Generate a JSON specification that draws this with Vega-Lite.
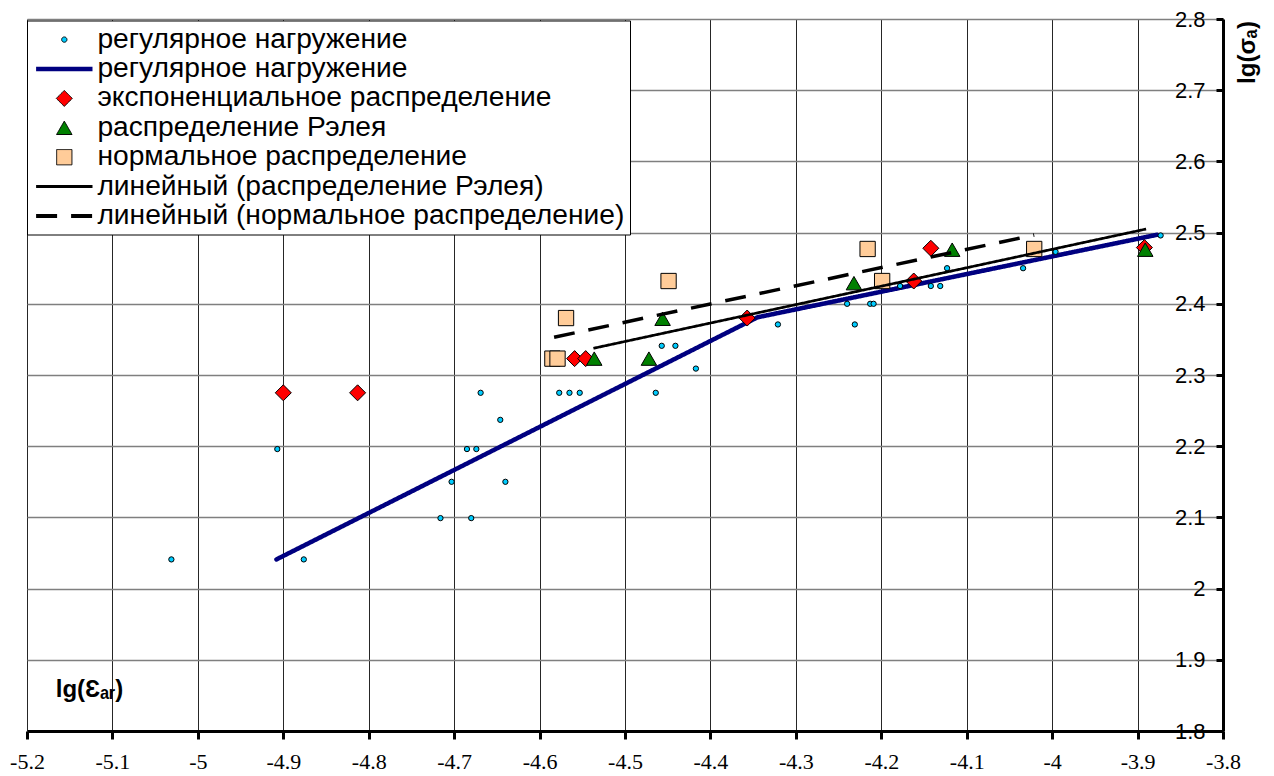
{
  "$schema": "https://vega.github.io/schema/vega-lite/v6.json",
  "width": 1196,
  "height": 712,
  "autosize": {"type": "none"},
  "padding": {"left": 27, "top": 19, "right": 51, "bottom": 45},
  "background": "white",
  "config": {
    "view": {"stroke": null},
    "legend": {
      "fillColor": "white",
      "strokeColor": "black",
      "strokeWidth": 1,
      "cornerRadius": 0,
      "padding": 5,
      "labelFont": "Liberation Sans",
      "labelFontSize": 28.2,
      "labelColor": "black",
      "labelLimit": 0,
      "symbolOffset": 18.2,
      "labelOffset": 19,
      "rowPadding": 0.4
    }
  },
  "data": {
    "values": [
      {"series": "pts_reg", "x": -5.031, "y": 2.041},
      {"series": "pts_reg", "x": -4.907, "y": 2.196},
      {"series": "pts_reg", "x": -4.876, "y": 2.041},
      {"series": "pts_reg", "x": -4.716, "y": 2.099},
      {"series": "pts_reg", "x": -4.703, "y": 2.15},
      {"series": "pts_reg", "x": -4.685, "y": 2.196},
      {"series": "pts_reg", "x": -4.68, "y": 2.099},
      {"series": "pts_reg", "x": -4.674, "y": 2.196},
      {"series": "pts_reg", "x": -4.669, "y": 2.275},
      {"series": "pts_reg", "x": -4.646, "y": 2.237},
      {"series": "pts_reg", "x": -4.64, "y": 2.15},
      {"series": "pts_reg", "x": -4.577, "y": 2.275},
      {"series": "pts_reg", "x": -4.565, "y": 2.275},
      {"series": "pts_reg", "x": -4.553, "y": 2.275},
      {"series": "pts_reg", "x": -4.464, "y": 2.275},
      {"series": "pts_reg", "x": -4.457, "y": 2.341},
      {"series": "pts_reg", "x": -4.441, "y": 2.341},
      {"series": "pts_reg", "x": -4.417, "y": 2.309},
      {"series": "pts_reg", "x": -4.321, "y": 2.371},
      {"series": "pts_reg", "x": -4.24, "y": 2.4},
      {"series": "pts_reg", "x": -4.231, "y": 2.371},
      {"series": "pts_reg", "x": -4.213, "y": 2.4},
      {"series": "pts_reg", "x": -4.209, "y": 2.4},
      {"series": "pts_reg", "x": -4.178, "y": 2.425},
      {"series": "pts_reg", "x": -4.142, "y": 2.425},
      {"series": "pts_reg", "x": -4.131, "y": 2.425},
      {"series": "pts_reg", "x": -4.123, "y": 2.45},
      {"series": "pts_reg", "x": -4.034, "y": 2.45},
      {"series": "pts_reg", "x": -3.996, "y": 2.473},
      {"series": "pts_reg", "x": -3.873, "y": 2.496},
      {"series": "line_reg", "x": -4.908, "y": 2.041},
      {"series": "line_reg", "x": -4.345, "y": 2.381},
      {"series": "line_reg", "x": -3.877, "y": 2.497},
      {"series": "exp", "x": -4.9, "y": 2.275},
      {"series": "exp", "x": -4.813, "y": 2.275},
      {"series": "exp", "x": -4.559, "y": 2.323},
      {"series": "exp", "x": -4.546, "y": 2.323},
      {"series": "exp", "x": -4.357, "y": 2.38},
      {"series": "exp", "x": -4.162, "y": 2.432},
      {"series": "exp", "x": -4.142, "y": 2.478},
      {"series": "exp", "x": -3.892, "y": 2.479},
      {"series": "rayleigh", "x": -4.536, "y": 2.323},
      {"series": "rayleigh", "x": -4.472, "y": 2.323},
      {"series": "rayleigh", "x": -4.456, "y": 2.379},
      {"series": "rayleigh", "x": -4.232, "y": 2.429},
      {"series": "rayleigh", "x": -4.117, "y": 2.476},
      {"series": "rayleigh", "x": -3.891, "y": 2.476},
      {"series": "normal", "x": -4.585, "y": 2.323},
      {"series": "normal", "x": -4.579, "y": 2.323},
      {"series": "normal", "x": -4.569, "y": 2.38},
      {"series": "normal", "x": -4.449, "y": 2.432},
      {"series": "normal", "x": -4.216, "y": 2.477},
      {"series": "normal", "x": -4.199, "y": 2.432},
      {"series": "normal", "x": -4.021, "y": 2.477},
      {"series": "trend_rayleigh", "x": -4.537, "y": 2.3375},
      {"series": "trend_rayleigh", "x": -3.89, "y": 2.505},
      {"series": "trend_normal", "x": -4.583, "y": 2.353},
      {"series": "trend_normal", "x": -4.021, "y": 2.4966}
    ]
  },
  "encoding": {
    "x": {
      "field": "x",
      "type": "quantitative",
      "scale": {"domain": [-5.2, -3.8], "nice": false, "zero": false},
      "axis": {
        "values": [-5.2, -5.1, -5, -4.9, -4.8, -4.7, -4.6, -4.5, -4.4, -4.3, -4.2, -4.1, -4, -3.9, -3.8],
        "labelExpr": "'' + datum.value",
        "grid": true,
        "gridColor": "#262626",
        "gridWidth": 1,
        "domainColor": "black",
        "domainWidth": 3,
        "tickColor": "black",
        "tickWidth": 3,
        "tickSize": 8,
        "labelFont": "Liberation Serif",
        "labelFontSize": 22,
        "labelColor": "black",
        "labelPadding": 12,
        "labelFlush": false,
        "labelOverlap": false,
        "labelBound": false,
        "title": "lg(Ɛₐᵣ)",
        "titleFont": "Liberation Sans",
        "titleFontWeight": "bold",
        "titleFontSize": 24,
        "titleColor": "black",
        "titleX": 62,
        "titleY": -42,
        "titleAlign": "center",
        "titleBaseline": "middle",
        "titleAngle": 0
      }
    },
    "y": {
      "field": "y",
      "type": "quantitative",
      "scale": {"domain": [1.8, 2.8], "nice": false, "zero": false},
      "axis": {
        "orient": "right",
        "values": [1.8, 1.9, 2, 2.1, 2.2, 2.3, 2.4, 2.5, 2.6, 2.7, 2.8],
        "labelExpr": "'' + datum.value",
        "grid": true,
        "gridColor": "#7f7f7f",
        "gridWidth": 1.5,
        "domainColor": "black",
        "domainWidth": 3,
        "tickColor": "black",
        "tickWidth": 3,
        "tickSize": -7,
        "labelPadding": -11,
        "labelAlign": "right",
        "labelBaseline": "middle",
        "labelFont": "Liberation Sans",
        "labelFontSize": 22,
        "labelColor": "black",
        "labelFlush": false,
        "labelOverlap": false,
        "labelBound": false,
        "title": "lg(σₐ)",
        "titleFont": "Liberation Sans",
        "titleFontWeight": "bold",
        "titleFontSize": 24,
        "titleColor": "black",
        "titleX": 24,
        "titleY": 33,
        "titleAngle": 270,
        "titleAlign": "center",
        "titleBaseline": "middle"
      }
    }
  },
  "layer": [
    {
      "transform": [{"filter": "datum.series == 'line_reg'"}],
      "mark": {"type": "line", "strokeWidth": 4.5, "strokeCap": "round"},
      "encoding": {
        "stroke": {
          "field": "series", "type": "nominal",
          "scale": {
            "domain": ["pts_reg", "line_reg", "exp", "rayleigh", "normal", "trend_rayleigh", "trend_normal"],
            "range": ["black", "#000080", "black", "black", "black", "black", "black"]
          },
          "legend": {
            "title": null, "orient": "none", "legendX": 0, "legendY": 1.5,
            "labelExpr": "datum.value == 'pts_reg' || datum.value == 'line_reg' ? 'регулярное нагружение' : datum.value == 'exp' ? 'экспоненциальное распределение' : datum.value == 'rayleigh' ? 'распределение Рэлея' : datum.value == 'normal' ? 'нормальное распределение' : datum.value == 'trend_rayleigh' ? 'линейный (распределение Рэлея)' : 'линейный (нормальное распределение)'",
            "encode": {"symbols": {"update": {
              "size": {"signal": "datum.value == 'pts_reg' ? 28 : datum.value == 'exp' ? 256 : datum.value == 'rayleigh' ? 240 : datum.value == 'normal' ? 234 : 36"},
              "strokeWidth": {"signal": "datum.value == 'line_reg' ? 4.5 : datum.value == 'trend_rayleigh' ? 3 : datum.value == 'trend_normal' ? 4 : 1"},
              "strokeDash": {"signal": "datum.value == 'trend_normal' ? [18, 9] : [1, 0]"}
            }}}
          }
        },
        "strokeDash": {
          "field": "series", "type": "nominal",
          "scale": {
            "domain": ["pts_reg", "line_reg", "exp", "rayleigh", "normal", "trend_rayleigh", "trend_normal"],
            "range": [[1, 0], [1, 0], [1, 0], [1, 0], [1, 0], [1, 0], [21, 14]]
          },
          "legend": {
            "title": null, "orient": "none", "legendX": 0, "legendY": 1.5,
            "labelExpr": "datum.value == 'pts_reg' || datum.value == 'line_reg' ? 'регулярное нагружение' : datum.value == 'exp' ? 'экспоненциальное распределение' : datum.value == 'rayleigh' ? 'распределение Рэлея' : datum.value == 'normal' ? 'нормальное распределение' : datum.value == 'trend_rayleigh' ? 'линейный (распределение Рэлея)' : 'линейный (нормальное распределение)'",
            "encode": {"symbols": {"update": {
              "size": {"signal": "datum.value == 'pts_reg' ? 28 : datum.value == 'exp' ? 256 : datum.value == 'rayleigh' ? 240 : datum.value == 'normal' ? 234 : 36"},
              "strokeWidth": {"signal": "datum.value == 'line_reg' ? 4.5 : datum.value == 'trend_rayleigh' ? 3 : datum.value == 'trend_normal' ? 4 : 1"},
              "strokeDash": {"signal": "datum.value == 'trend_normal' ? [18, 9] : [1, 0]"}
            }}}
          }
        }
      }
    },
    {
      "transform": [{"filter": "indexof(['pts_reg', 'exp', 'rayleigh', 'normal'], datum.series) >= 0"}],
      "mark": {"type": "point", "filled": true, "opacity": 1, "strokeWidth": 1},
      "encoding": {
        "shape": {
          "field": "series", "type": "nominal",
          "scale": {
            "domain": ["pts_reg", "line_reg", "exp", "rayleigh", "normal", "trend_rayleigh", "trend_normal"],
            "range": ["circle", "M-9.4,0H9.4", "diamond", "triangle-up", "square", "M-9.4,0H9.4", "M-9.4,0H9.4"]
          },
          "legend": {
            "title": null, "orient": "none", "legendX": 0, "legendY": 1.5,
            "labelExpr": "datum.value == 'pts_reg' || datum.value == 'line_reg' ? 'регулярное нагружение' : datum.value == 'exp' ? 'экспоненциальное распределение' : datum.value == 'rayleigh' ? 'распределение Рэлея' : datum.value == 'normal' ? 'нормальное распределение' : datum.value == 'trend_rayleigh' ? 'линейный (распределение Рэлея)' : 'линейный (нормальное распределение)'",
            "encode": {"symbols": {"update": {
              "size": {"signal": "datum.value == 'pts_reg' ? 28 : datum.value == 'exp' ? 256 : datum.value == 'rayleigh' ? 240 : datum.value == 'normal' ? 234 : 36"},
              "strokeWidth": {"signal": "datum.value == 'line_reg' ? 4.5 : datum.value == 'trend_rayleigh' ? 3 : datum.value == 'trend_normal' ? 4 : 1"},
              "strokeDash": {"signal": "datum.value == 'trend_normal' ? [18, 9] : [1, 0]"}
            }}}
          }
        },
        "fill": {
          "field": "series", "type": "nominal",
          "scale": {
            "domain": ["pts_reg", "line_reg", "exp", "rayleigh", "normal", "trend_rayleigh", "trend_normal"],
            "range": ["#00CCFF", "transparent", "#FF0000", "#008000", "#FFCC99", "transparent", "transparent"]
          },
          "legend": {
            "title": null, "orient": "none", "legendX": 0, "legendY": 1.5,
            "labelExpr": "datum.value == 'pts_reg' || datum.value == 'line_reg' ? 'регулярное нагружение' : datum.value == 'exp' ? 'экспоненциальное распределение' : datum.value == 'rayleigh' ? 'распределение Рэлея' : datum.value == 'normal' ? 'нормальное распределение' : datum.value == 'trend_rayleigh' ? 'линейный (распределение Рэлея)' : 'линейный (нормальное распределение)'",
            "encode": {"symbols": {"update": {
              "size": {"signal": "datum.value == 'pts_reg' ? 28 : datum.value == 'exp' ? 256 : datum.value == 'rayleigh' ? 240 : datum.value == 'normal' ? 234 : 36"},
              "strokeWidth": {"signal": "datum.value == 'line_reg' ? 4.5 : datum.value == 'trend_rayleigh' ? 3 : datum.value == 'trend_normal' ? 4 : 1"},
              "strokeDash": {"signal": "datum.value == 'trend_normal' ? [18, 9] : [1, 0]"}
            }}}
          }
        },
        "stroke": {
          "field": "series", "type": "nominal",
          "scale": {
            "domain": ["pts_reg", "line_reg", "exp", "rayleigh", "normal", "trend_rayleigh", "trend_normal"],
            "range": ["black", "#000080", "black", "black", "black", "black", "black"]
          },
          "legend": {
            "title": null, "orient": "none", "legendX": 0, "legendY": 1.5,
            "labelExpr": "datum.value == 'pts_reg' || datum.value == 'line_reg' ? 'регулярное нагружение' : datum.value == 'exp' ? 'экспоненциальное распределение' : datum.value == 'rayleigh' ? 'распределение Рэлея' : datum.value == 'normal' ? 'нормальное распределение' : datum.value == 'trend_rayleigh' ? 'линейный (распределение Рэлея)' : 'линейный (нормальное распределение)'",
            "encode": {"symbols": {"update": {
              "size": {"signal": "datum.value == 'pts_reg' ? 28 : datum.value == 'exp' ? 256 : datum.value == 'rayleigh' ? 240 : datum.value == 'normal' ? 234 : 36"},
              "strokeWidth": {"signal": "datum.value == 'line_reg' ? 4.5 : datum.value == 'trend_rayleigh' ? 3 : datum.value == 'trend_normal' ? 4 : 1"},
              "strokeDash": {"signal": "datum.value == 'trend_normal' ? [18, 9] : [1, 0]"}
            }}}
          }
        },
        "size": {
          "condition": [
            {"test": "datum.series == 'pts_reg'", "value": 28},
            {"test": "datum.series == 'exp'", "value": 256},
            {"test": "datum.series == 'rayleigh'", "value": 240}
          ],
          "value": 234
        }
      }
    },
    {
      "transform": [{"filter": "datum.series == 'trend_rayleigh' || datum.series == 'trend_normal'"}],
      "mark": {"type": "line"},
      "encoding": {
        "stroke": {
          "field": "series", "type": "nominal",
          "scale": {
            "domain": ["pts_reg", "line_reg", "exp", "rayleigh", "normal", "trend_rayleigh", "trend_normal"],
            "range": ["black", "#000080", "black", "black", "black", "black", "black"]
          },
          "legend": {
            "title": null, "orient": "none", "legendX": 0, "legendY": 1.5,
            "labelExpr": "datum.value == 'pts_reg' || datum.value == 'line_reg' ? 'регулярное нагружение' : datum.value == 'exp' ? 'экспоненциальное распределение' : datum.value == 'rayleigh' ? 'распределение Рэлея' : datum.value == 'normal' ? 'нормальное распределение' : datum.value == 'trend_rayleigh' ? 'линейный (распределение Рэлея)' : 'линейный (нормальное распределение)'",
            "encode": {"symbols": {"update": {
              "size": {"signal": "datum.value == 'pts_reg' ? 28 : datum.value == 'exp' ? 256 : datum.value == 'rayleigh' ? 240 : datum.value == 'normal' ? 234 : 36"},
              "strokeWidth": {"signal": "datum.value == 'line_reg' ? 4.5 : datum.value == 'trend_rayleigh' ? 3 : datum.value == 'trend_normal' ? 4 : 1"},
              "strokeDash": {"signal": "datum.value == 'trend_normal' ? [18, 9] : [1, 0]"}
            }}}
          }
        },
        "strokeDash": {
          "field": "series", "type": "nominal",
          "scale": {
            "domain": ["pts_reg", "line_reg", "exp", "rayleigh", "normal", "trend_rayleigh", "trend_normal"],
            "range": [[1, 0], [1, 0], [1, 0], [1, 0], [1, 0], [1, 0], [21, 14]]
          },
          "legend": {
            "title": null, "orient": "none", "legendX": 0, "legendY": 1.5,
            "labelExpr": "datum.value == 'pts_reg' || datum.value == 'line_reg' ? 'регулярное нагружение' : datum.value == 'exp' ? 'экспоненциальное распределение' : datum.value == 'rayleigh' ? 'распределение Рэлея' : datum.value == 'normal' ? 'нормальное распределение' : datum.value == 'trend_rayleigh' ? 'линейный (распределение Рэлея)' : 'линейный (нормальное распределение)'",
            "encode": {"symbols": {"update": {
              "size": {"signal": "datum.value == 'pts_reg' ? 28 : datum.value == 'exp' ? 256 : datum.value == 'rayleigh' ? 240 : datum.value == 'normal' ? 234 : 36"},
              "strokeWidth": {"signal": "datum.value == 'line_reg' ? 4.5 : datum.value == 'trend_rayleigh' ? 3 : datum.value == 'trend_normal' ? 4 : 1"},
              "strokeDash": {"signal": "datum.value == 'trend_normal' ? [18, 9] : [1, 0]"}
            }}}
          }
        },
        "strokeWidth": {
          "condition": {"test": "datum.series == 'trend_normal'", "value": 3.5},
          "value": 2.7
        }
      }
    }
  ]
}
